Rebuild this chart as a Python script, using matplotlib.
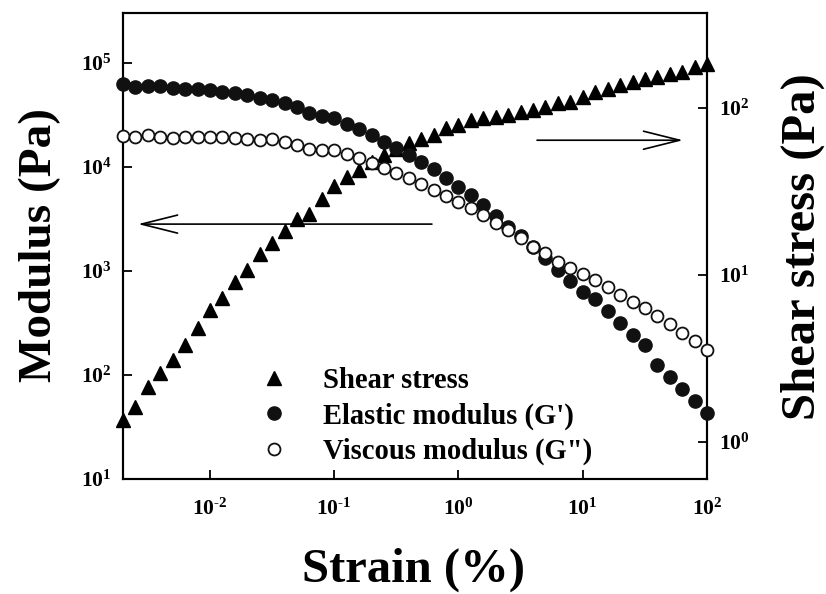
import numpy as np
import matplotlib
matplotlib.use('Agg')
import matplotlib.pyplot as plt
from matplotlib.ticker import FixedLocator, FuncFormatter, NullLocator

plt.rcParams['font.family'] = 'Liberation Serif'
plt.rcParams['font.weight'] = 'bold'
plt.rcParams['mathtext.fontset'] = 'custom'
plt.rcParams['mathtext.rm'] = 'Liberation Serif:bold'
plt.rcParams['mathtext.bf'] = 'Liberation Serif:bold'
plt.rcParams['mathtext.it'] = 'Liberation Serif:bold'

# strain sweep (%), 10 points per decade
strain = [0.002, 0.00252, 0.00317, 0.00399, 0.00502, 0.00632, 0.00796,
          0.0100, 0.0126, 0.0159, 0.0200, 0.0252, 0.0317, 0.0399, 0.0502,
          0.0632, 0.0796, 0.100, 0.126, 0.159, 0.200, 0.252, 0.317, 0.399,
          0.502, 0.632, 0.796, 1.00, 1.26, 1.59, 2.00, 2.52, 3.17, 3.99,
          5.02, 6.32, 7.96, 10.0, 12.6, 15.9, 20.0, 25.2, 31.7, 39.9,
          50.2, 63.2, 79.6, 100]

# elastic modulus G' (Pa)
g_elastic = [62800, 58700, 60200, 60200, 57500, 56200, 56900, 55600, 52600,
             51500, 49200, 46600, 44000, 41200, 38200, 33100, 30900, 29600,
             26200, 23400, 20500, 17400, 15200, 13000, 11200, 9570, 7840,
             6420, 5380, 4310, 3380, 2650, 2170, 1700, 1330, 1020, 802, 628,
             538, 412, 316, 243, 194, 125, 95.7, 73.3, 56.2, 43.2]

# viscous modulus G'' (Pa)
g_viscous = [19900, 19400, 20300, 19400, 19200, 19400, 19400, 19600, 19400,
             19000, 18800, 18400, 18600, 17400, 16300, 14900, 14600, 14600,
             13300, 12200, 10900, 9780, 8750, 7830, 6860, 6010, 5260, 4600,
             4030, 3450, 2900, 2480, 2080, 1700, 1490, 1220, 1070, 935, 818,
             701, 587, 503, 441, 369, 309, 253, 212, 174]

# shear stress (Pa)
shear_stress = [1.35, 1.62, 2.13, 2.59, 3.10, 3.81, 4.81, 6.17, 7.28, 9.08,
                10.7, 13.4, 15.5, 18.3, 21.6, 23.2, 28.5, 34.1, 38.6, 42.5,
                47.5, 52.3, 56.8, 61.7, 65.2, 68.9, 75.9, 79.6, 84.7, 87.1,
                88.3, 90.8, 94.6, 97.3, 101, 107, 109, 116, 125, 130, 137,
                143, 149, 153, 160, 164, 176, 183]

fig = plt.figure(figsize=(8.26, 5.94), dpi=100)
ax1 = fig.add_axes([0.1489, 0.1936, 0.7070, 0.7845])
ax2 = ax1.twinx()
ax1.set_zorder(ax2.get_zorder() + 1)
ax1.patch.set_visible(False)

h_s, = ax2.plot(strain, shear_stress, linestyle='none', marker='^',
                markersize=9.5, color='black', clip_on=False,
                label='Shear stress')
h_e, = ax1.plot(strain, g_elastic, linestyle='none', marker='o',
                markersize=9.5, color='#111111', clip_on=False,
                label="Elastic modulus (G')", zorder=3)
h_v, = ax1.plot(strain, g_viscous, linestyle='none', marker='o',
                markersize=8.6, markerfacecolor='white',
                markeredgecolor='#111111', markeredgewidth=1.3,
                clip_on=False, label='Viscous modulus (G")', zorder=4)

for ax in (ax1, ax2):
    ax.set_xscale('log')
    ax.set_yscale('log')
    ax.set_xlim(0.002, 100)
    for sp in ax.spines.values():
        sp.set_linewidth(1.5)
    ax.xaxis.set_minor_locator(NullLocator())
    ax.yaxis.set_minor_locator(NullLocator())

ax1.set_ylim(10, 3.03e5)
ax2.set_ylim(0.6, 370.7)


def pow_label(v, pos):
    e = int(round(np.log10(v)))
    if e < 0:
        # short hyphen like the original figure
        return r'$10^{\text{-}%d}$' % (-e)
    return r'$10^{%d}$' % e


fmt = FuncFormatter(pow_label)

ax1.xaxis.set_major_locator(FixedLocator([1e-2, 1e-1, 1, 10, 100]))
ax1.xaxis.set_major_formatter(fmt)
ax1.yaxis.set_major_locator(FixedLocator([1e1, 1e2, 1e3, 1e4, 1e5]))
ax1.yaxis.set_major_formatter(fmt)
ax2.yaxis.set_major_locator(FixedLocator([1, 10, 100]))
ax2.yaxis.set_major_formatter(fmt)

ax1.tick_params(axis='both', which='major', direction='in', length=6.5,
                width=1.3, labelsize=15.5, top=False)
ax1.tick_params(axis='x', pad=14)
ax1.tick_params(axis='y', pad=8)
ax2.tick_params(axis='y', which='major', direction='in', length=6.5,
                width=1.3, labelsize=15.5, pad=9)

ax1.set_xlabel('Strain (%)', fontsize=35, fontweight='bold')
ax1.xaxis.set_label_coords(0.498, -0.148)
ax1.set_ylabel('Modulus (Pa)', fontsize=34, fontweight='bold')
ax1.yaxis.set_label_coords(-0.106, 0.502)
ax2.set_ylabel('Shear stress (Pa)', fontsize=35, fontweight='bold')
ax2.yaxis.set_label_coords(1.1267, 0.498)

# direction arrows
ax1.annotate('', xy=(0.0257, 0.547), xytext=(0.529, 0.547),
             xycoords='axes fraction',
             arrowprops=dict(arrowstyle='->, head_length=26, head_width=6.5',
                             mutation_scale=1, lw=1.2, color='black',
                             shrinkA=0, shrinkB=0))
ax1.annotate('', xy=(0.959, 0.727), xytext=(0.709, 0.727),
             xycoords='axes fraction',
             arrowprops=dict(arrowstyle='->, head_length=26, head_width=6.5',
                             mutation_scale=1, lw=1.2, color='black',
                             shrinkA=0, shrinkB=0))

leg = ax1.legend(handles=[h_s, h_e, h_v], loc='upper left',
                 bbox_to_anchor=(0.3142, 0.382), bbox_transform=fig.transFigure,
                 frameon=False, fontsize=20.6, handlelength=1.0,
                 handletextpad=1.21, labelspacing=0.29, borderpad=0,
                 borderaxespad=0)

fig.savefig('out.png', dpi=100)
